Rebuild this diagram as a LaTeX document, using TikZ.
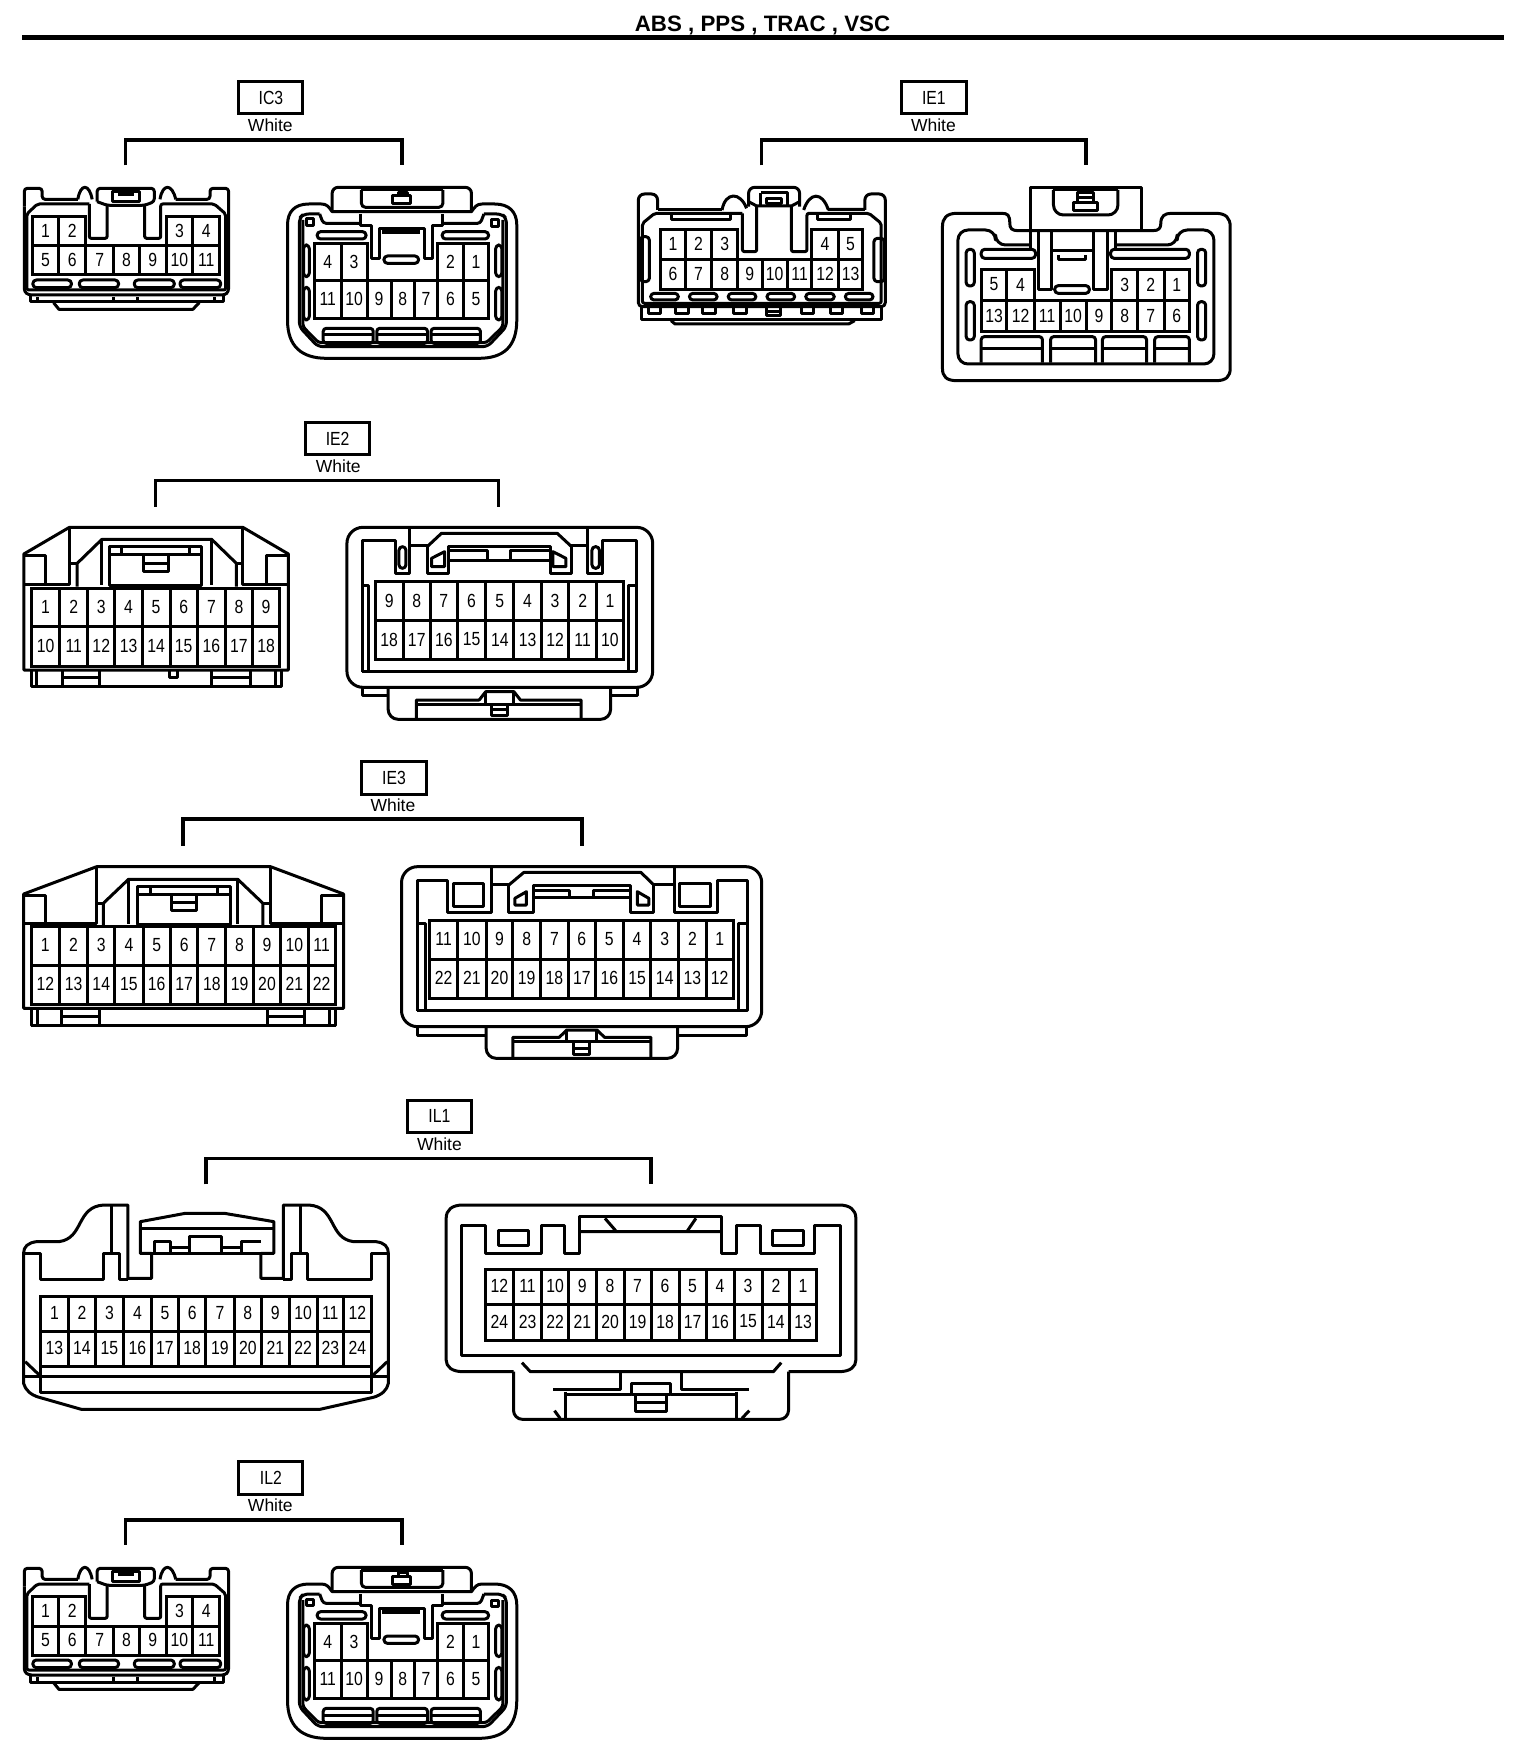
\documentclass[tikz,border=0pt]{standalone}
\usepackage{fontspec}
\setmainfont{Liberation Sans}
\newfontface\pinfont[FakeStretch=0.83]{Liberation Sans}
\newfontface\titlefont{Liberation Sans Bold}
\tikzset{
  ln/.style={line width=3pt,line join=round,black},
  thn/.style={line width=2pt,line join=round,black},
  pinbox/.style={line width=3pt,line join=miter,black},
  pinnum/.style={font=\fontsize{19}{20}\pinfont,inner sep=0pt,text=black,yshift=.5pt},
  labelbox/.style={line width=3pt,black},
  labeltext/.style={font=\fontsize{19}{20}\pinfont,inner sep=0pt,text=black},
  whitetext/.style={font=\fontsize{17.5}{20}\selectfont,inner sep=0pt,text=black},
  brk/.style={line width=3.4pt,line join=miter,black},
  zA/.style={x=.35714pt,y=-.33333pt},
  zB/.style={x=.40816pt,y=-.33333pt},
  zC/.style={x=.43367pt,y=-.33333pt},
  zD/.style={x=.50378pt,y=-.33333pt},
  zE/.style={x=.56122pt,y=-.33333pt},
}
\newcommand{\pinrow}[4]{%
  \foreach \xr/\pl [remember=\xr as \xl (initially #3)] in {#4} {
    \draw[pinbox] (\xl,#1) rectangle node[pinnum] (pin-\xr-#1) {\pl} (\xr,#2);
  }}
\newcommand{\pill}[4]{\draw[ln,rounded corners=3.5pt] (#1,#2) rectangle (#3,#4);}
\newcommand{\conlabel}[8]{%
  \draw[labelbox] (#3,#4) rectangle node[labeltext] (#1) {#2} (#5,#6);
  \node[whitetext] (#1-w) at (#7,#8) {White};}
\newcommand{\bracket}[5]{%
  \coordinate (#1-a) at (#2,#5); \coordinate (#1-b) at (#2,#4);
  \coordinate (#1-c) at (#3,#4); \coordinate (#1-d) at (#3,#5);
  \draw[brk] (#1-a) -- (#1-b) -- (#1-c) -- (#1-d);}
% connector pair used for IC3 and IL2
\newcommand{\smallpair}{%
  % left connector
  \draw[ln,rounded corners=3pt] (68,440) -- (68,385) -- (118,385) -- (118,418) -- (218,418);
  \draw[ln] (218,418) .. controls (225,370) and (250,370) .. (258,418);
  \draw[ln] (448,418) .. controls (455,370) and (482,370) .. (492,418);
  \draw[ln,rounded corners=3pt] (492,418) -- (588,418) -- (588,385) -- (640,385) -- (640,695) -- (630,705) -- (80,705) -- (68,695) -- (68,440);
  \draw[ln,rounded corners=3pt] (272,425) -- (272,385) -- (432,385) -- (432,425) -- (405,436) -- (300,436) -- (272,425);
  \draw[ln,rounded corners=2pt] (250,432) -- (105,432) -- (75,462) -- (75,690) -- (632,690) -- (632,462) -- (600,432) -- (450,432) -- (450,535) -- (405,535) -- (405,436);
  \draw[ln,rounded corners=2pt] (300,436) -- (300,535) -- (250,535) -- (250,432);
  \draw[ln] (315,395) rectangle (390,425);
  \draw[ln] (330,403) -- (375,403);
  \pinrow{470}{558}{90}{165/1,240/2}
  \pinrow{470}{558}{465}{540/3,615/4}
  \pinrow{558}{645}{90}{165/5,240/6,318/7,390/8,465/9,540/10,615/11}
  \pill{92}{660}{200}{683}\pill{222}{660}{332}{683}\pill{376}{660}{488}{683}\pill{504}{660}{618}{683}
  \draw[ln] (85,708) -- (85,726) -- (625,726) -- (625,708);
  \draw[ln] (105,712) -- (105,726) (318,712) -- (318,726) (385,712) -- (385,726) (600,712) -- (600,726);
  \draw[ln] (150,728) -- (165,748) -- (540,748) -- (558,728);
  % right connector
  \draw[ln,rounded corners=6pt] (930,455) -- (930,382) -- (1320,382) -- (1320,455);
  \draw[ln,rounded corners=4pt] (1012,390) -- (1012,442) -- (1240,442) -- (1240,390);
  \draw[ln] (1012,390) -- (1240,390);
  \draw[ln] (1098,432) -- (1098,408) -- (1150,408) -- (1150,432) -- cycle;
  \draw[ln] (1115,408) -- (1115,397) -- (1140,397) -- (1140,408);
  \draw[ln] (930,455) .. controls (920,440) and (915,432) .. (900,432) -- (865,432)
     .. controls (825,432) and (805,455) .. (805,495) -- (805,780)
     .. controls (805,860) and (845,895) .. (915,895) -- (1340,895)
     .. controls (1410,895) and (1447,860) .. (1447,780) -- (1447,495)
     .. controls (1447,455) and (1425,432) .. (1385,432) -- (1350,432)
     .. controls (1335,432) and (1330,440) .. (1320,455) -- cycle;
  \draw[ln,rounded corners=5pt] (895,462) -- (850,462) -- (838,475) -- (838,800) -- (890,860) -- (1365,860) -- (1418,800) -- (1418,475) -- (1405,462) -- (1355,462);
  \draw[ln,rounded corners=3pt] (848,480) -- (848,800) -- (892,848) -- (1362,848) -- (1408,800) -- (1408,480);
  \draw[ln,rounded corners=3pt] (895,462) -- (905,490) -- (1005,490);
  \draw[ln,rounded corners=3pt] (1355,462) -- (1345,490) -- (1243,490);
  \draw[ln] (858,477) rectangle (878,497) (1375,480) rectangle (1395,500);
  \draw[ln] (1010,462) -- (1010,497) -- (1040,497) -- (1040,595) -- (1062,595) -- (1062,505) -- (1188,505) -- (1188,595) -- (1210,595) -- (1210,497) -- (1240,497) -- (1240,462);
  \draw[line width=4pt] (1070,515) -- (1175,515);
  \pill{1075}{588}{1172}{610}
  \pill{888}{515}{1025}{537}\pill{1238}{515}{1368}{537}
  \pill{850}{555}{866}{650}\pill{850}{682}{866}{780}\pill{1388}{555}{1405}{650}\pill{1388}{682}{1405}{780}
  \pinrow{550}{662}{880}{955/4,1028/3}
  \pinrow{550}{662}{1225}{1298/2,1368/1}
  \pinrow{662}{775}{880}{955/11,1028/10,1095/9,1160/8,1225/7,1298/6,1368/5}
  \foreach \xa/\xb in {905/1045,1055/1197,1207/1345}{
    \draw[ln,rounded corners=3pt] (\xa,850) -- (\xa,805) -- (\xb,805) -- (\xb,850) -- cycle;
    \draw[ln] (\xa,825) -- (\xb,825);}
}
\begin{document}
\begin{tikzpicture}[x=1pt,y=-1pt]
\path[use as bounding box,fill=white] (0,0) rectangle (1536,1760);
% title
\node[font=\fontsize{22.3}{25}\titlefont,inner sep=0pt,text=black] (title) at (762.5,25) {ABS , PPS , TRAC , VSC};
\coordinate (rule-a) at (22,37.5); \coordinate (rule-b) at (1504,37.5);
\draw[line width=5pt] (rule-a) -- (rule-b);

% IC3
\begin{scope}[zA,shift={(0pt,-60pt)},name prefix=ic-]
  \conlabel{IC3}{IC3}{669}{64}{848}{162}{757}{195}
  \bracket{br}{352}{1126}{240}{316}
  \smallpair
\end{scope}

% IL2
\begin{scope}[zA,shift={(0pt,-1440pt)},name prefix=il-]
  \conlabel{IL2}{IL2}{669}{64}{848}{162}{757}{195}
  \bracket{br}{352}{1126}{240}{314}
  \smallpair
\end{scope}

% IE1
\begin{scope}[zB,shift={(620pt,-60pt)},name prefix=e1-]
  \conlabel{IE1}{IE1}{690}{64}{848}{162}{768}{195}
  \bracket{br}{346}{1142}{240}{316}
  % left
  \draw[ln,rounded corners=6pt] (45,450) -- (45,402) -- (92,402) -- (92,450);
  \draw[ln] (92,450) -- (250,450);
  \draw[ln] (250,450) .. controls (258,395) and (295,395) .. (310,445);
  \draw[ln,rounded corners=6pt] (315,440) -- (315,382) -- (440,382) -- (440,440);
  \draw[ln] (450,450) .. controls (465,395) and (495,395) .. (510,448) -- (600,448);
  \draw[ln,rounded corners=6pt] (600,450) -- (600,402) -- (650,402) -- (650,450);
  \draw[ln,rounded corners=4pt] (45,450) -- (45,740) -- (650,740) -- (650,450);
  \draw[ln,rounded corners=2pt] (300,460) -- (85,460) -- (55,490) -- (55,730) -- (640,730) -- (640,490) -- (610,460) -- (458,460) -- (458,575) -- (420,575) -- (420,438);
  \draw[ln,rounded corners=2pt] (335,438) -- (335,575) -- (300,575) -- (300,460);
  \draw[ln] (315,425) -- (335,438) -- (420,438) -- (440,425);
  \draw[ln] (125,458) -- (125,480) -- (270,480) -- (270,458);
  \draw[ln] (485,460) -- (485,480) -- (565,480) -- (565,460);
  \draw[ln] (345,398) -- (410,398) -- (410,435) (345,398) -- (345,435);
  \draw[ln] (358,415) rectangle (395,432);
  \pill{50}{530}{72}{665}\pill{622}{535}{648}{665}
  \pinrow{508}{598}{100}{160/1,225/2,288/3}
  \pinrow{508}{598}{470}{535/4,595/5}
  \pinrow{598}{690}{100}{160/6,225/7,288/8,348/9,410/10,470/11,535/12,595/13}
  \foreach \xa/\xb in {75/143,170/238,265/333,360/428,455/525,552/620}{\pill{\xa}{700}{\xb}{720}}
  \draw[ln] (52,742) -- (52,780) -- (640,780) -- (640,742);
  \foreach \xa/\xb in {70/98,135/168,202/235,278/310,445/475,515/545,592/620}{\draw[ln] (\xa,745) -- (\xa,762) -- (\xb,762) -- (\xb,745);}
  \draw[ln] (360,745) -- (360,768) -- (392,768) -- (392,745) (360,756) -- (392,756);
  \draw[ln] (125,782) -- (135,792) -- (560,792) -- (575,782);
  % right
  \draw[ln] (1005,512) -- (1005,382) -- (1278,382) -- (1278,512);
  \draw[ln,rounded corners=10pt] (1062,390) -- (1062,465) -- (1220,465) -- (1220,390);
  \draw[ln] (1062,390) -- (1220,390);
  \draw[ln] (1110,428) rectangle (1170,452);
  \draw[ln] (1122,428) -- (1122,398) -- (1160,398) -- (1160,428) (1122,412) -- (1160,412);
  \draw[ln] (1005,512) -- (975,512) .. controls (960,512) and (955,505) .. (955,490) .. controls (955,465) and (950,460) .. (935,460) -- (825,460)
    .. controls (800,460) and (790,475) .. (790,500) -- (790,925) .. controls (790,950) and (800,962) .. (825,962) -- (1460,962)
    .. controls (1485,962) and (1495,950) .. (1495,925) -- (1495,500) .. controls (1495,475) and (1485,460) .. (1460,460) -- (1350,460)
    .. controls (1335,460) and (1325,468) .. (1325,490) .. controls (1325,505) and (1320,512) .. (1305,512) -- cycle;
  \draw[ln,rounded corners=10pt] (1005,555) -- (920,555) -- (920,510) -- (828,510) -- (828,912) -- (1455,912) -- (1455,510) -- (1365,510) -- (1365,555) -- (1215,555);
  \draw[ln] (1005,515) -- (1005,565);
  \draw[ln] (1215,515) -- (1215,565);
  \draw[ln] (1025,515) -- (1025,690) -- (1058,690) -- (1058,515);
  \draw[ln] (1160,515) -- (1160,690) -- (1195,690) -- (1195,515);
  \draw[ln] (1058,572) -- (1160,572);
  \draw[ln] (1075,585) -- (1075,600) -- (1140,600) -- (1140,585);
  \pill{1065}{677}{1150}{700}
  \pill{885}{568}{1018}{595}\pill{1202}{568}{1395}{595}
  \pill{848}{568}{868}{678}\pill{848}{725}{868}{840}\pill{1415}{568}{1435}{678}\pill{1415}{725}{1435}{840}
  \pinrow{628}{722}{885}{948/5,1015/4}
  \pinrow{628}{722}{1205}{1268/3,1333/2,1395/1}
  \pinrow{722}{815}{885}{948/13,1015/12,1078/11,1142/10,1205/9,1268/8,1333/7,1395/6}
  \foreach \xa/\xb in {885/1035,1055/1165,1182/1290,1310/1395}{
    \draw[ln,rounded corners=3pt] (\xa,908) -- (\xa,830) -- (\xb,830) -- (\xb,908);
    \draw[ln] (\xa,865) -- (\xb,865);}
\end{scope}

% IE2
\begin{scope}[zC,shift={(0pt,-410pt)},name prefix=e2-]
  \conlabel{IE2}{IE2}{705}{37}{852}{134}{780}{168}
  \bracket{br}{358}{1150}{212}{290}
  % left
  \draw[ln] (55,780) -- (55,432) -- (160,352) -- (560,352) -- (665,432) -- (665,780) -- cycle;
  \draw[ln] (160,355) -- (160,523) -- (55,523) (560,355) -- (560,523) -- (665,523);
  \draw[ln] (58,436) -- (105,436) -- (105,520) (615,520) -- (615,436) -- (662,436);
  \draw[ln] (178,530) -- (178,460) -- (235,388) -- (488,388) -- (545,460) -- (545,530);
  \draw[ln] (235,388) -- (235,525) (488,388) -- (488,525) (160,460) -- (178,460) (545,460) -- (560,460);
  \draw[ln] (252,410) rectangle (465,525);
  \draw[ln] (252,432) -- (465,432) (280,412) -- (280,432) (438,412) -- (438,432);
  \draw[ln] (330,435) -- (330,485) -- (388,485) -- (388,435) (330,460) -- (388,460);
  \pinrow{535}{650}{72}{138/1,202/2,265/3,328/4,392/5,455/6,520/7,582/8,645/9}
  \pinrow{650}{768}{72}{138/10,202/11,265/12,328/13,392/14,455/15,520/16,582/17,645/18}
  \draw[ln] (72,780) -- (72,830) -- (648,830) -- (648,780);
  \draw[ln] (85,782) -- (85,828) (635,782) -- (635,828);
  \draw[ln] (145,782) -- (145,828) (230,782) -- (230,828) (145,802) -- (230,802);
  \draw[ln] (488,782) -- (488,828) (578,782) -- (578,828) (488,802) -- (578,802);
  \draw[ln] (390,782) -- (390,803) -- (410,803) -- (410,782);
  % right
  \draw[ln,rounded corners=16pt] (800,352) -- (1505,352) -- (1505,832) -- (800,832) -- cycle;
  \draw[ln] (835,785) -- (835,392) -- (912,392) -- (912,490) -- (945,490) -- (945,355);
  \draw[ln] (945,405) -- (985,405) -- (985,490) -- (1035,490) -- (1035,408) -- (1270,408) -- (1270,490) -- (1318,490) -- (1318,405) -- (1355,405);
  \draw[ln] (1355,355) -- (1355,490) -- (1390,490) -- (1390,392) -- (1468,392) -- (1468,785) -- (835,785);
  \draw[ln] (985,410) -- (1018,370) -- (1285,370) -- (1318,410);
  \pill{920}{410}{936}{475}\pill{1365}{410}{1382}{475}
  \draw[ln] (995,470) -- (995,445) -- (1025,425) -- (1025,470) -- cycle;
  \draw[ln] (1275,425) -- (1305,445) -- (1305,470) -- (1275,470) -- cycle;
  \draw[ln] (1035,450) -- (1270,450);
  \draw[ln] (1035,422) -- (1125,422) -- (1125,448) (1178,448) -- (1178,422) -- (1270,422);
  \pinrow{515}{632}{865}{930/9,992/8,1055/7,1120/6,1185/5,1248/4,1312/3,1375/2,1438/1}
  \pinrow{632}{748}{865}{930/18,992/17,1055/16,1120/15,1185/14,1248/13,1312/12,1375/11,1438/10}
  \draw[ln] (835,525) -- (850,525) -- (850,785) (1468,525) -- (1450,525) -- (1450,785);
  \draw[ln] (835,832) -- (835,855) -- (895,855) (1408,855) -- (1470,855) -- (1470,832);
  \draw[ln,rounded corners=10pt] (895,835) -- (895,928) -- (1408,928) -- (1408,835);
  \draw[ln] (960,928) -- (960,870) -- (1105,870) -- (1120,845) -- (1185,845) -- (1200,870) -- (1340,870) -- (1340,928);
  \draw[ln] (960,882) -- (1340,882);
  \draw[ln] (1120,845) -- (1120,882) (1185,845) -- (1185,882);
  \draw[ln] (1133,882) -- (1133,915) -- (1170,915) -- (1170,882) (1133,898) -- (1170,898);
\end{scope}

% IE3
\begin{scope}[zD,shift={(0pt,-750pt)},name prefix=e3-]
  \conlabel{IE3}{IE3}{717}{33}{847}{133}{780}{165}
  \bracket{br}{363}{1155}{207}{287}
  % left
  \draw[ln] (47,775) -- (47,432) -- (192,350) -- (537,350) -- (682,432) -- (682,775) -- cycle;
  \draw[ln] (47,520) -- (192,520) -- (192,355) (537,355) -- (537,520) -- (682,520);
  \draw[ln] (50,435) -- (90,435) -- (90,518) (638,518) -- (638,435) -- (680,435);
  \draw[ln] (205,528) -- (205,460) -- (255,388) -- (472,388) -- (522,460) -- (522,528);
  \draw[ln] (192,460) -- (205,460) (522,460) -- (537,460) (255,388) -- (255,522) (472,388) -- (472,522);
  \draw[ln] (272,408) rectangle (458,522);
  \draw[ln] (272,432) -- (458,432) (298,412) -- (298,432) (432,412) -- (432,432);
  \draw[ln] (340,435) -- (340,482) -- (390,482) -- (390,435) (340,458) -- (390,458);
  \pinrow{530}{645}{62}{118/1,174/2,228/3,284/4,338/5,393/6,448/7,503/8,557/9,612/10,665/11}
  \pinrow{645}{762}{62}{118/12,174/13,228/14,284/15,338/16,393/17,448/18,503/19,557/20,612/21,665/22}
  \draw[ln] (62,775) -- (62,826) -- (666,826) -- (666,775);
  \draw[ln] (75,780) -- (75,824) (655,780) -- (655,824);
  \draw[ln] (122,780) -- (122,824) (198,780) -- (198,824) (122,800) -- (198,800);
  \draw[ln] (530,780) -- (530,824) (605,780) -- (605,824) (530,800) -- (605,800);
  \draw[line width=3.6pt] (62,826) -- (666,826);
  % right
  \draw[ln,rounded corners=16pt] (797,350) -- (1512,350) -- (1512,830) -- (797,830) -- cycle;
  \draw[ln] (828,782) -- (828,392) -- (888,392) -- (888,487) -- (975,487) -- (975,355);
  \draw[ln] (975,402) -- (1010,402) -- (1010,487) -- (1058,487) -- (1058,405) -- (1252,405) -- (1252,487) -- (1298,487) -- (1298,402) -- (1338,402);
  \draw[ln] (1338,355) -- (1338,487) -- (1425,487) -- (1425,392) -- (1483,392) -- (1483,782) -- (828,782);
  \draw[ln] (900,400) rectangle (960,470) (1348,400) rectangle (1410,470);
  \draw[ln] (1010,405) -- (1040,367) -- (1272,367) -- (1298,405);
  \draw[ln] (1022,465) -- (1022,445) -- (1045,425) -- (1045,465) -- cycle;
  \draw[ln] (1265,425) -- (1288,445) -- (1288,465) -- (1265,465) -- cycle;
  \draw[ln] (1058,442) -- (1252,442);
  \draw[ln] (1058,420) -- (1130,420) -- (1130,442) (1178,442) -- (1178,420) -- (1252,420);
  \pinrow{510}{628}{853}{908/11,965/10,1018/9,1073/8,1128/7,1182/6,1237/5,1292/4,1347/3,1402/2,1455/1}
  \pinrow{628}{745}{853}{908/22,965/21,1018/20,1073/19,1128/18,1182/17,1237/16,1292/15,1347/14,1402/13,1455/12}
  \draw[ln] (828,520) -- (845,520) -- (845,782) (1483,520) -- (1465,520) -- (1465,782);
  \draw[ln] (828,830) -- (828,855) -- (965,855) (1345,855) -- (1482,855) -- (1482,830);
  \draw[ln,rounded corners=10pt] (965,832) -- (965,925) -- (1345,925) -- (1345,832);
  \draw[ln] (1018,925) -- (1018,862) -- (1110,862) -- (1125,840) -- (1185,840) -- (1200,862) -- (1292,862) -- (1292,925);
  \draw[ln] (1018,875) -- (1292,875) (1125,840) -- (1125,875) (1185,840) -- (1185,875);
  \draw[ln] (1138,878) -- (1138,912) -- (1170,912) -- (1170,878) (1138,895) -- (1170,895);
\end{scope}

% IL1
\begin{scope}[zE,shift={(0pt,-1090pt)},name prefix=l1-]
  \conlabel{IL1}{IL1}{726}{30}{840}{128}{783}{162}
  \bracket{br}{367}{1160}{205}{283}
  % left
  \draw[ln] (228,565) -- (228,345) -- (185,345) .. controls (135,350) and (150,445) .. (105,455) -- (65,455)
    .. controls (50,458) and (42,470) .. (42,490) -- (42,880) .. controls (45,900) and (55,915) .. (70,922)
    -- (145,958) -- (570,958) -- (665,922) .. controls (680,915) and (690,900) .. (692,880) -- (692,490)
    .. controls (692,470) and (685,458) .. (670,455) -- (630,455) .. controls (585,445) and (600,350) .. (550,345) -- (505,345) -- (505,565);
  \draw[ln] (228,565) -- (270,565) -- (270,490) -- (250,490) -- (250,395) -- (330,370) -- (400,370) -- (488,395) -- (488,490) -- (465,490) -- (465,565) -- (505,565);
  \draw[ln] (250,415) -- (488,415) (270,490) -- (465,490);
  \draw[ln] (198,345) -- (198,490) (535,345) -- (535,490);
  \draw[ln] (42,490) -- (72,490) -- (72,568) -- (185,568) -- (185,490) -- (213,490) -- (213,568) -- (228,568);
  \draw[ln] (505,568) -- (520,568) -- (520,490) -- (548,490) -- (548,568) -- (662,568) -- (662,490) -- (692,490);
  \draw[ln] (275,488) -- (275,455) -- (303,455) -- (303,488);
  \draw[ln] (338,488) -- (338,440) -- (395,440) -- (395,488);
  \draw[ln] (430,488) -- (430,455) -- (465,455);
  \draw[ln] (303,472) -- (338,472) (395,472) -- (430,472);
  \pinrow{620}{723}{72}{122/1,170/2,220/3,270/4,318/5,367/6,417/7,466/8,515/9,565/10,612/11,662/12}
  \pinrow{723}{830}{72}{122/13,170/14,220/15,270/16,318/17,367/18,417/19,466/20,515/21,565/22,612/23,662/24}
  \draw[line width=3.6pt] (42,860) -- (692,860);
  \draw[ln] (72,830) -- (72,908) -- (662,908) -- (662,830);
  \draw[ln] (45,815) -- (70,855) (690,815) -- (665,855);
  % right
  \draw[ln] (915,845) -- (825,845) .. controls (805,845) and (795,830) .. (795,810) -- (795,385) .. controls (795,360) and (805,345) .. (825,345) -- (1495,345)
    .. controls (1515,345) and (1525,360) .. (1525,385) -- (1525,810) .. controls (1525,830) and (1515,845) .. (1495,845) -- (1405,845);
  \draw[ln,rounded corners=9pt] (915,845) -- (915,988) -- (1405,988) -- (1405,845);
  \draw[ln] (823,405) -- (865,405) -- (865,490) -- (965,490) -- (965,405) -- (1005,405) -- (1005,490) -- (1032,490) -- (1032,380) -- (1285,380) -- (1285,490) -- (1312,490) -- (1312,405) -- (1355,405) -- (1355,490) -- (1452,490) -- (1452,405) -- (1498,405) -- (1498,797) -- (823,797) -- cycle;
  \draw[ln] (1032,425) -- (1285,425) (1078,385) -- (1097,422) (1240,385) -- (1225,422);
  \draw[ln] (888,422) rectangle (942,467) (1377,422) rectangle (1432,467);
  \pinrow{537}{642}{865}{915/12,965/11,1013/10,1062/9,1112/8,1160/7,1210/6,1258/5,1308/4,1358/3,1407/2,1455/1}
  \pinrow{642}{750}{865}{915/24,965/23,1013/22,1062/21,1112/20,1160/19,1210/18,1258/17,1308/16,1358/15,1407/14,1455/13}
  \draw[ln] (930,818) -- (945,845) -- (1378,845) -- (1392,818);
  \draw[ln] (1105,845) -- (1105,898) -- (985,898) (1215,845) -- (1215,898) -- (1335,898);
  \draw[ln] (1008,912) -- (1125,912) (1195,912) -- (1312,912);
  \draw[ln] (1125,880) rectangle (1195,912);
  \draw[ln] (1132,912) -- (1132,965) -- (1188,965) -- (1188,912) (1132,938) -- (1188,938);
  \draw[ln] (1008,905) -- (1008,985) (1312,905) -- (1312,985);
  \draw[ln] (988,962) -- (998,985) (1335,962) -- (1322,985);
\end{scope}
\end{tikzpicture}
\end{document}
